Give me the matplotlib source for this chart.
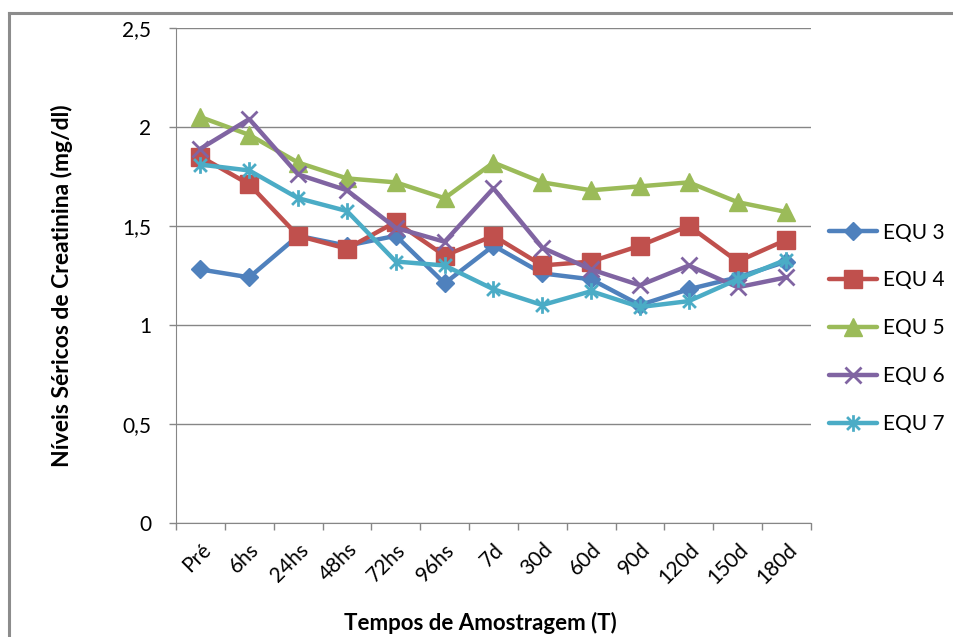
import numpy as np
import matplotlib.pyplot as plt
from matplotlib.path import Path
from matplotlib.lines import Line2D

# Níveis séricos de creatinina (mg/dl) por tempo de amostragem
tempos = ["Pré", "6hs", "24hs", "48hs", "72hs", "96hs", "7d",
          "30d", "60d", "90d", "120d", "150d", "180d"]

equ3 = [1.28, 1.24, 1.45, 1.40, 1.45, 1.21, 1.40, 1.26, 1.23, 1.10, 1.18, 1.24, 1.32]
equ4 = [1.85, 1.71, 1.45, 1.385, 1.52, 1.35, 1.45, 1.30, 1.32, 1.40, 1.50, 1.32, 1.43]
equ5 = [2.05, 1.96, 1.82, 1.74, 1.72, 1.64, 1.82, 1.72, 1.68, 1.70, 1.72, 1.62, 1.57]
equ6 = [1.89, 2.04, 1.76, 1.68, 1.49, 1.42, 1.69, 1.39, 1.28, 1.20, 1.30, 1.19, 1.24]
equ7 = [1.81, 1.78, 1.64, 1.575, 1.32, 1.30, 1.18, 1.10, 1.17, 1.09, 1.12, 1.23, 1.33]

nomes = ["EQU 3", "EQU 4", "EQU 5", "EQU 6", "EQU 7"]
cores = ["#4F81BD", "#C0504D", "#9BBB59", "#8064A2", "#4BACC6"]

# marcador tipo asterisco (x com traço vertical)
estrela = Path([(-1, -1), (1, 1), (-1, 1), (1, -1), (0, -1.3), (0, 1.3)],
               [Path.MOVETO, Path.LINETO, Path.MOVETO, Path.LINETO,
                Path.MOVETO, Path.LINETO])

marcadores = [("D", 9), ("s", 13), ("^", 13), ("x", 12), (estrela, 12)]

plt.rcParams['font.family'] = ['Lato', 'DejaVu Sans']

fig = plt.figure(figsize=(9.54, 6.37), dpi=100)
ax = fig.add_axes([0.1845, 0.1794, 0.6655, 0.7766])

x = np.arange(len(tempos))
for serie, nome, cor, (m, ms) in zip([equ3, equ4, equ5, equ6, equ7], nomes, cores, marcadores):
    ax.plot(x, serie, color=cor, linewidth=3.2, marker=m, markersize=ms,
            markeredgewidth=2 if m in ("x",) or m is estrela else 1,
            markerfacecolor=cor, markeredgecolor=cor, label=nome,
            solid_capstyle='round')

ax.set_xlim(-0.5, len(tempos) - 0.5)
ax.set_ylim(0, 2.5)
ax.set_yticks([0, 0.5, 1, 1.5, 2, 2.5])
ax.set_yticklabels(["0", "0,5", "1", "1,5", "2", "2,5"])
ax.yaxis.grid(True, color="#868686", linewidth=1)
ax.set_axisbelow(True)

ax.set_xticks(x)
ax.set_xticklabels(tempos, rotation=45, ha='right', rotation_mode='anchor')
ax.set_xticks(np.arange(-0.5, len(tempos)), minor=True)
ax.tick_params(axis='x', which='major', length=0, pad=12, labelsize=15)
ax.tick_params(axis='x', which='minor', length=5, color="#868686", width=1)
ax.tick_params(axis='y', length=5, color="#868686", width=1, labelsize=15, pad=13)

for lado in ["top", "right"]:
    ax.spines[lado].set_visible(False)
for lado in ["left", "bottom"]:
    ax.spines[lado].set_color("#868686")

ax.set_ylabel("Níveis Séricos de Creatinina (mg/dl)", fontsize=16.5, fontweight='bold')
ax.yaxis.set_label_coords(-0.162, 0.48)
ax.set_xlabel("Tempos de Amostragem (T)", fontsize=16, fontweight='bold')
ax.xaxis.set_label_coords(0.479, -0.181)

fig.legend(loc='upper left', bbox_to_anchor=(0.858, 0.667), frameon=False, borderpad=0,
           fontsize=15, handlelength=2.3, labelspacing=1.34, handletextpad=0.3)

# moldura externa do gráfico
fig.add_artist(Line2D([0.0095, 0.0095], [0, 0.98], color="#8c8c8c", linewidth=2.2))
fig.add_artist(Line2D([0.0095, 1.0], [0.98, 0.98], color="#8c8c8c", linewidth=2.2))

fig.savefig("out.png", dpi=100)
